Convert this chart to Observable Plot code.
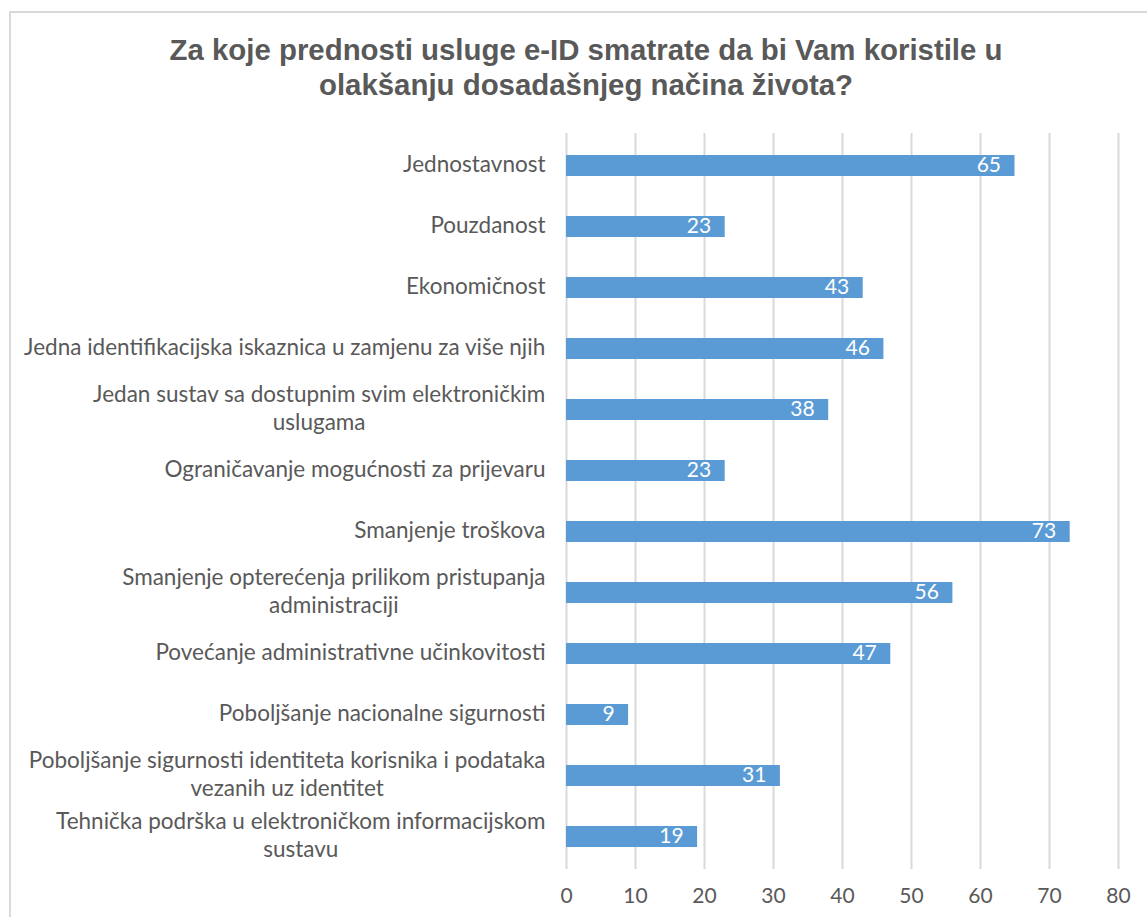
<!DOCTYPE html>
<html>
<head>
<meta charset="utf-8">
<script src="https://cdn.jsdelivr.net/npm/d3@7"></script>
<script src="https://cdn.jsdelivr.net/npm/@observablehq/plot@0.6"></script>
<style>
  html, body { margin: 0; padding: 0; background: #fff; overflow: hidden; }
  body { width: 1147px; height: 917px; position: relative; }
  #frame { position: absolute; left: 9px; top: 11px; width: 1160px; height: 940px; border: 2px solid #d9d9d9; box-sizing: border-box; }
  #title { position: absolute; left: 25px; width: 1122px; top: 32px; text-align: center;
           font-family: "Liberation Sans", Arial, sans-serif; font-weight: bold; font-size: 29.4px;
           line-height: 35px; color: #595959; }
  #chart { position: absolute; left: 0; top: 103px; }
</style>
</head>
<body>
<div id="frame"></div>
<div id="title">Za koje prednosti usluge e-ID smatrate da bi Vam koristile u<br>olakšanju dosadašnjeg načina života?</div>
<div id="chart"></div>
<script>
const categories = [
  "Jednostavnost",
  "Pouzdanost",
  "Ekonomičnost",
  "Jedna identifikacijska iskaznica u zamjenu za više njih",
  "Jedan sustav sa dostupnim svim elektroničkim\nuslugama",
  "Ograničavanje mogućnosti za prijevaru",
  "Smanjenje troškova",
  "Smanjenje opterećenja prilikom pristupanja\nadministraciji",
  "Povećanje administrativne učinkovitosti",
  "Poboljšanje nacionalne sigurnosti",
  "Poboljšanje sigurnosti identiteta korisnika i podataka\nvezanih uz identitet",
  "Tehnička podrška u elektroničkom informacijskom\nsustavu"
];
const values = [65, 23, 43, 46, 38, 23, 73, 56, 47, 9, 31, 19];
const xTicks = [0, 10, 20, 30, 40, 50, 60, 70, 80];

const data = categories.map((c, i) => ({category: c, value: values[i]}));

const labelSize = 22.5;
const canvas = document.createElement("canvas");
const ctx = canvas.getContext("2d");
ctx.font = `${labelSize}px Lato`;
const widest = c => d3.max(c.split("\n"), l => ctx.measureText(l).width);

const labelMarks = categories.map(c =>
  Plot.text([c], {
    x: () => 0, y: d => d, text: d => d,
    textAnchor: "middle", dx: -21 - widest(c) / 2, dy: -3,
    lineHeight: 1.25, fontSize: labelSize, fontFamily: "Lato", fill: "#595959"
  })
);

const chart = Plot.plot({
  width: 1147,
  height: 814,
  marginLeft: 566,
  marginRight: 29,
  marginTop: 30,
  marginBottom: 48,
  style: {fontFamily: "Lato", background: "transparent"},
  x: {domain: [0, 80], ticks: xTicks, tickSize: 0, tickPadding: 19, label: null},
  y: {domain: categories, paddingInner: 0.657, paddingOuter: 0.33, axis: null},
  marks: [
    Plot.ruleX(xTicks, {stroke: "#d9d9d9", strokeWidth: 2}),
    Plot.axisX({ticks: xTicks, tickSize: 0, tickPadding: 19, fontSize: 21, fill: "#595959", fontFamily: "Lato", label: null}),
    Plot.barX(data, {x: "value", y: "category", fill: "#5b9bd5"}),
    Plot.text(data, {x: "value", y: "category", text: d => String(d.value), textAnchor: "end", dx: -14, dy: -1,
      fill: "white", fontSize: 21, fontFamily: "Lato"}),
    ...labelMarks
  ]
});
document.getElementById("chart").appendChild(chart);
</script>
</body>
</html>
